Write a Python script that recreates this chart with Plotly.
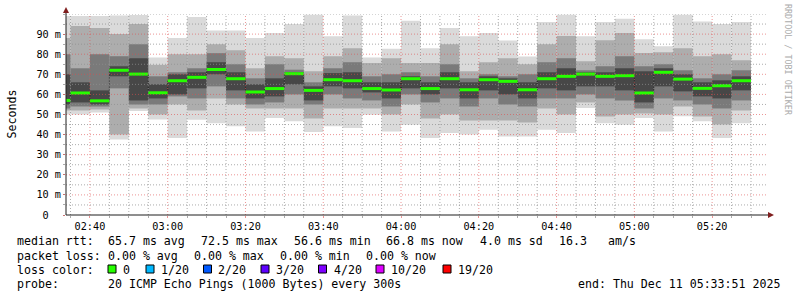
import plotly.graph_objects as go
from datetime import datetime, timedelta

# ---------------- data (ms) ----------------
ping_max  = [99, 99, 99, 99.3, 99.5, 78.4, 88, 98.5, 91.8, 91.8, 88, 90.5, 95, 99.6, 88.9, 99.3, 78.4, 82.7,
             96.6, 83, 93, 88.9, 90.5, 86.8, 78.9, 96, 99.6, 88.9, 96, 97.6, 87.5, 84, 99.6, 96.3, 95, 96]
band2_hi  = [88, 94, 93, 90, 95, 74.7, 80, 80, 85, 82, 73, 79, 78, 71.5, 79, 83, 75.6, 78,
             75.6, 75.6, 85, 71.5, 76, 78, 75, 85, 89, 76.5, 87, 90.5, 80.6, 81, 83, 79, 80, 77]
band3_hi  = [80, 73, 80, 79, 85, 69, 71, 73, 80.5, 75, 68, 75, 72.3, 66, 73, 76, 69, 70,
             71, 69, 75, 68, 70, 69, 70, 76, 78, 72, 74, 79, 74, 75, 72, 68, 70, 72]
band4_hi  = [70, 66, 62, 74, 78, 65, 70, 71, 76, 71, 65, 68, 71, 64, 70.6, 71, 66, 66,
             69, 66, 71, 66, 69, 68, 66, 71, 73, 71, 71, 73, 71.5, 73, 70, 66, 67, 69]
median_rtt = [57.0, 60.7, 56.8, 72.0, 70.1, 60.8, 66.8, 68.5, 72.4, 67.8, 61.2, 62.9, 70.3, 62.0, 67.3, 66.8,
              62.9, 62.2, 67.8, 62.9, 67.8, 62.3, 67.3, 66.5, 62.3, 67.8, 69.0, 70.1, 69.0, 69.3, 60.7, 71.0,
              67.6, 63.0, 64.3, 66.8]
band4_lo  = [55, 56, 55, 69, 57, 58, 60, 63, 70, 62, 58, 59, 65, 57, 64, 63, 61, 58,
             63, 60, 63, 58, 62, 60, 58, 63, 62, 64, 64, 62, 56, 64, 61.5, 59, 58, 62]
band3_lo  = [53, 54, 54, 63, 55, 55, 59, 58, 64, 58, 55, 56, 60, 55, 60, 58, 57, 54,
             60, 56, 58, 54, 58, 55, 54, 58, 58, 60, 58, 57, 53, 58, 57, 55, 53, 57]
band2_lo  = [52, 52, 52.5, 40, 53, 50, 55, 52, 58, 55, 53, 53, 53, 48, 53, 53, 53, 50,
             55, 48, 50, 47, 47, 47, 46, 53, 50, 56, 49, 50, 50.5, 50, 54, 49, 45, 52]
ping_min  = [50, 50, 51, 37.5, 51.7, 47.5, 38.3, 47.4, 45.7, 44.1, 41.6, 48.2, 46.6, 41.3, 44.1, 43.3, 49.9, 41.6,
             44.9, 38.3, 40.8, 40, 42.4, 39.1, 39.1, 42.4, 40.8, 53.2, 45.7, 44.9, 48.2, 41.6, 49.1, 46.6, 38.3, 45.7]

y_tickvals = [0, 10, 20, 30, 40, 50, 60, 70, 80, 90]
y_ticktext = ["0\u00a0\u00a0", "10 m", "20 m", "30 m", "40 m", "50 m", "60 m", "70 m", "80 m", "90 m"]

legend_rtt = [("median rtt:", 16), ("65.7 ms avg", 107), ("72.5 ms max", 200), ("56.6 ms min", 293),
              ("66.8 ms now", 385), ("4.0 ms sd", 479), ("16.3", 558), ("am/s", 607)]
legend_loss = [("packet loss:", 16), ("0.00 % avg", 107), ("0.00 % max", 193), ("0.00 % min", 279),
               ("0.00 % now", 365)]
loss_labels = ["0", "1/20", "2/20", "3/20", "4/20", "10/20", "19/20"]
loss_colors = ["#26ff00", "#00b8ff", "#0059ff", "#5e00ff", "#7e00ff", "#dd00ff", "#ff0000"]
loss_sq_x = [108, 146, 203.5, 261, 318.5, 376, 443]
loss_lbl_x = [122, 160, 217, 275, 332.5, 390, 457]

# ---------------- geometry ----------------
W, H = 797, 297
L, R, T, B = 66, 31, 14, 82
PW, PH = W - L - R, H - T - B
FONT = "DejaVu Sans Mono"

def px(x):
    return (x - L) / PW

def py(y):
    return (H - B - y) / PH

T_END0 = datetime(2025, 12, 11, 2, 35)
STEP = timedelta(minutes=5)
bar_end = [T_END0 + STEP * i for i in range(len(median_rtt))]
bar_mid = [t - STEP / 2 for t in bar_end]
bar_start = [t - STEP for t in bar_end]
x0 = datetime(2025, 12, 11, 2, 33, 51)
x1 = datetime(2025, 12, 11, 5, 33, 51)

fig = go.Figure()

bands = [(ping_min, ping_max, "#dadada"), (band2_lo, band2_hi, "#adadad"),
         (band3_lo, band3_hi, "#7a7a7a"), (band4_lo, band4_hi, "#474747")]
for lo, hi, col in bands:
    fig.add_trace(go.Bar(x=bar_mid, y=[h - l for l, h in zip(lo, hi)], base=lo,
                         width=300000, marker=dict(color=col, line=dict(width=0)),
                         hoverinfo="skip", showlegend=False))

# dark step line linking medians
sx = bar_start + [bar_end[-1]]
sy = median_rtt + [median_rtt[-1]]
fig.add_trace(go.Scatter(x=sx, y=sy, mode="lines", line_shape="hv",
                         line=dict(color="#1a1a1a", width=1, dash="1px,1px"),
                         hoverinfo="skip", showlegend=False))

# green median segments
gx, gy = [], []
for s, e, m in zip(bar_start, bar_end, median_rtt):
    gx += [s, e, None]
    gy += [m, m, None]
fig.add_trace(go.Scatter(x=gx, y=gy, mode="lines", line=dict(color="#26ff00", width=3),
                         hoverinfo="skip", showlegend=False))

shapes = []
GRID = "rgba(143,143,143,0.75)"
MGRID = "rgba(222,79,79,0.6)"
DASH = "1px,2px"
# vertical grid
t = datetime(2025, 12, 11, 2, 35)
while t <= x1:
    major = (t.minute % 20 == 0)
    shapes.append(dict(type="line", xref="x", yref="paper", x0=t, x1=t, y0=0, y1=1, layer="above",
                       line=dict(color=MGRID if major else GRID, width=1, dash=DASH)))
    t += STEP
# horizontal grid
for v in range(5, 101, 5):
    major = (v % 10 == 0 and v < 100)
    shapes.append(dict(type="line", xref="paper", yref="y", x0=0, x1=1, y0=v, y1=v, layer="above",
                       line=dict(color=MGRID if major else GRID, width=1, dash=DASH)))
# axis lines with arrows
AX = "#1f1f1f"
ARROW = "#801f1f"
shapes.append(dict(type="line", xref="paper", yref="paper", x0=0, x1=px(769), y0=0, y1=0,
                   line=dict(color=AX, width=1), layer="above"))
shapes.append(dict(type="line", xref="paper", yref="paper", x0=0, x1=0, y0=0, y1=py(11),
                   line=dict(color=AX, width=1), layer="above"))
shapes.append(dict(type="path", xref="paper", yref="paper", layer="above",
                   path=f"M {px(768)} {py(212)} L {px(774)} {py(215)} L {px(768)} {py(218)} Z",
                   fillcolor=ARROW, line=dict(color=ARROW, width=0)))
shapes.append(dict(type="path", xref="paper", yref="paper", layer="above",
                   path=f"M {px(63)} {py(13)} L {px(66)} {py(7)} L {px(69)} {py(13)} Z",
                   fillcolor=ARROW, line=dict(color=ARROW, width=0)))
# loss colour squares
for sxp, col in zip(loss_sq_x, loss_colors):
    shapes.append(dict(type="rect", xref="paper", yref="paper", x0=px(sxp), x1=px(sxp + 8),
                       y0=py(273), y1=py(265), fillcolor=col, line=dict(color="#000000", width=1)))

ann = []

def text(s, x, y, size=11.6, anchor="left", color="#000000", angle=0, yanchor="middle"):
    ann.append(dict(text=s, x=px(x), y=py(y), xref="paper", yref="paper", showarrow=False,
                    xanchor=anchor, yanchor=yanchor, textangle=angle, borderpad=0,
                    font=dict(family=FONT, size=size, color=color)))

for s, x in legend_rtt:
    text(s, x, 241)
for s, x in legend_loss:
    text(s, x, 255.5)
text("loss color:", 16, 269.5)
for s, x in zip(loss_labels, loss_lbl_x):
    text(s, x, 269.5)
text("probe:", 16, 283.5)
text("20 ICMP Echo Pings (1000 Bytes) every 300s", 107, 283.5)
text("end: Thu Dec 11 05:33:51 2025", 781, 283.5, anchor="right")
text("Seconds", 11.5, 114, angle=-90, anchor="center")
text("RRDTOOL / TOBI OETIKER", 788, 60, size=8.4, color="#ababab", angle=90, anchor="center")

fig.update_layout(
    width=W, height=H, margin=dict(l=L, r=R, t=T, b=B, pad=0),
    paper_bgcolor="white", plot_bgcolor="white", barmode="overlay",
    showlegend=False, shapes=shapes, annotations=ann,
    font=dict(family=FONT, size=10.2, color="#000000"),
)
fig.update_xaxes(type="date", range=[x0, x1], showgrid=False, zeroline=False, showline=False,
                 tick0="2025-12-11 00:00:00", dtick=1200000, tickformat="%H:%M",
                 ticks="outside", ticklen=2, tickcolor=MGRID, tickfont=dict(size=10.2),
                 minor=dict(dtick=300000, tick0="2025-12-11 00:00:00", ticks="outside", ticklen=2,
                            tickcolor=GRID, showgrid=False))
fig.update_yaxes(range=[0, 100], showgrid=False, zeroline=False, showline=False,
                 tickvals=y_tickvals, ticktext=y_ticktext, ticks="outside", ticklen=2,
                 tickcolor=MGRID, tickfont=dict(size=10.2),
                 minor=dict(dtick=5, ticks="outside", ticklen=2, tickcolor=GRID, showgrid=False))

fig.write_html("out.html")
